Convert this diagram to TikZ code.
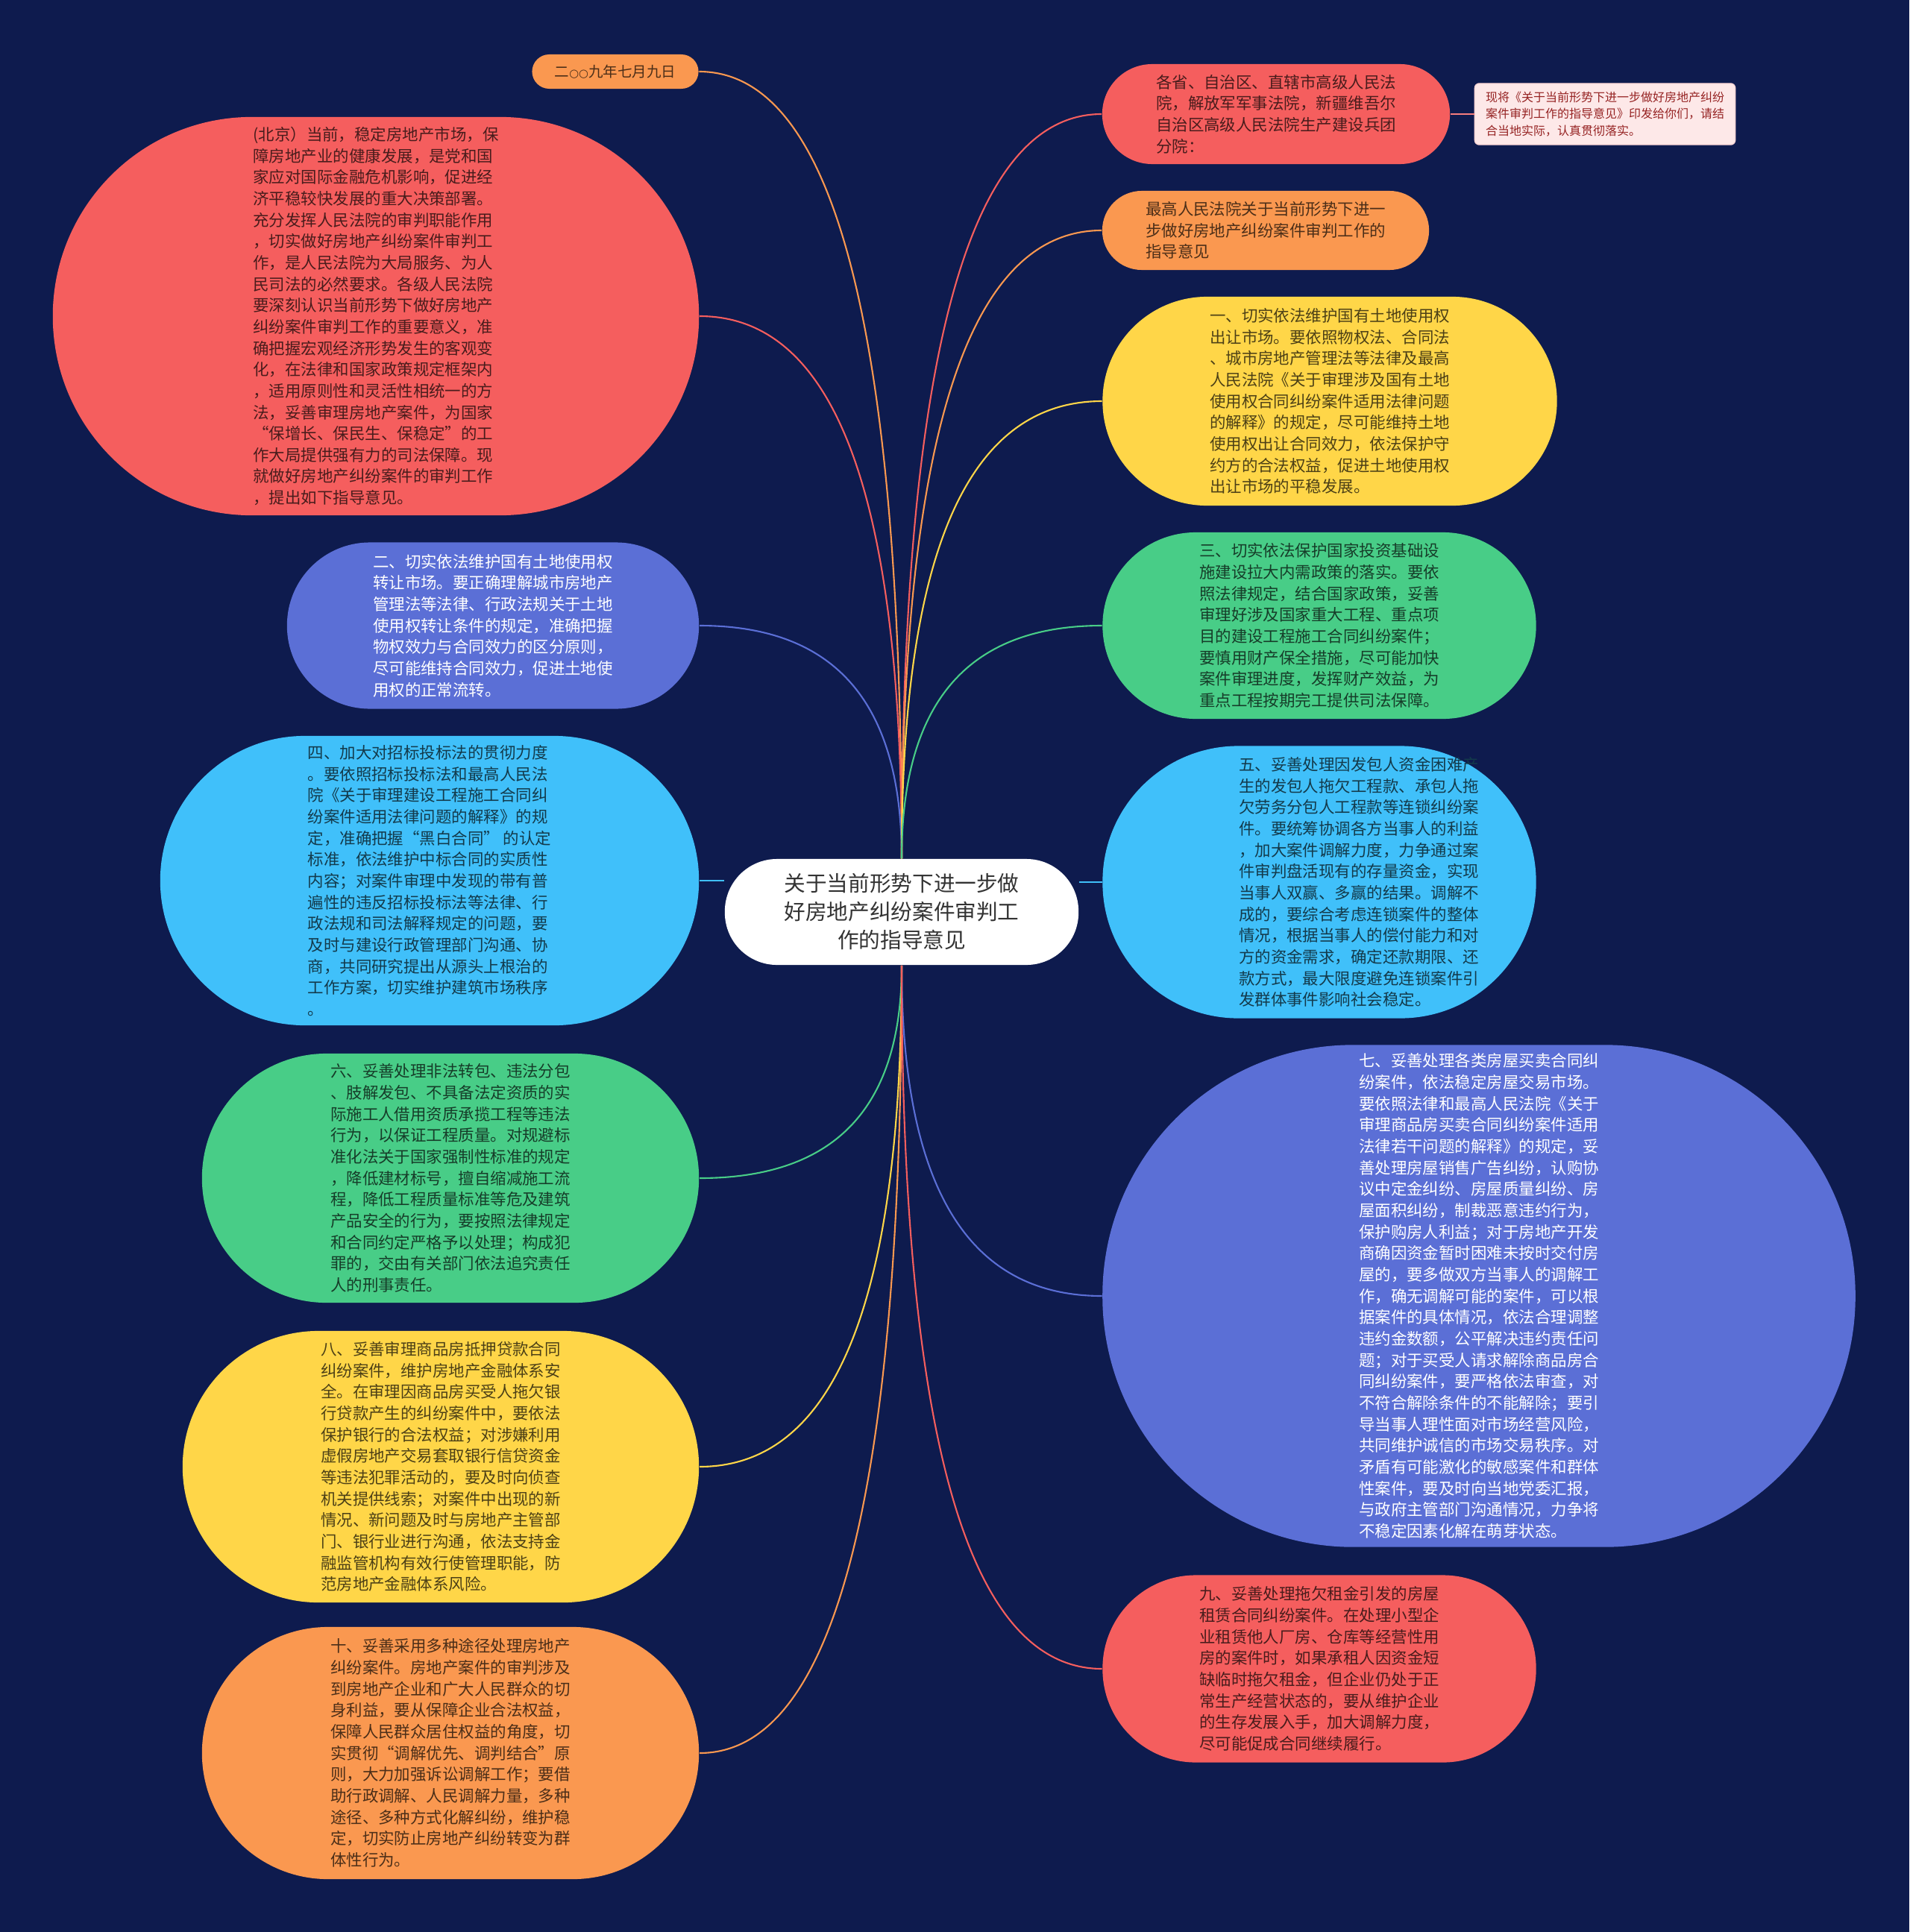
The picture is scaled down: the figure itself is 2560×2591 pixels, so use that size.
\documentclass[tikz,border=0pt]{standalone}
\usepackage{fontspec}
\newfontfamily\cjk{Noto Sans CJK SC}
\newfontfamily\symfont{DejaVu Sans}
\usepackage{tikz}
\usetikzlibrary{calc}
\definecolor{bgnavy}{RGB}{14,27,78}
\definecolor{cred}{RGB}{245,94,94}
\definecolor{corange}{RGB}{250,152,80}
\definecolor{cyellow}{RGB}{255,214,72}
\definecolor{cgreen}{RGB}{72,205,135}
\definecolor{clight}{RGB}{64,192,250}
\definecolor{cblue}{RGB}{91,111,214}
\definecolor{notefill}{RGB}{253,232,232}
\definecolor{notetext}{RGB}{150,35,35}
\newcommand{\smallring}{{\symfont\fontsize{4.2}{4.2}\selectfont ○}}
\tikzset{
  topic/.style={align=left, inner sep=0pt, font=\cjk\fontsize{6.1}{8.15}\selectfont},
  redtopic/.style={topic, fill=cred, text=cred!30!black},
  orangetopic/.style={topic, fill=corange, text=corange!30!black},
  yellowtopic/.style={topic, fill=cyellow, text=cyellow!30!black},
  greentopic/.style={topic, fill=cgreen, text=cgreen!30!black},
  lighttopic/.style={topic, fill=clight, text=clight!30!black},
  bluetopic/.style={topic, fill=cblue, text=white},
  rootnode/.style={fill=white, text=black!80, align=center, inner sep=0pt,
    font=\cjk\fontsize{8.15}{10.8}\selectfont},
  notebox/.style={fill=notefill, draw=cred!25, text=notetext, align=left, inner sep=0pt,
    rounded corners=0.06cm, font=\cjk\fontsize{4.55}{6.5}\selectfont},
  link/.style={line width=0.6pt}
}
\begin{document}
\begin{tikzpicture}[x=0.01cm, y=-0.01cm]
  \fill[bgnavy] (0,0) rectangle (2560,2591);
  \useasboundingbox (0,0) rectangle (2560,2591);

  \node[rootnode, minimum width=4.74cm, minimum height=1.42cm, rounded corners=0.7cm] (root) at (1209,1223)
    {关于当前形势下进一步做\\好房地产纠纷案件审判工\\作的指导意见};

  % left side
  \node[orangetopic, font=\cjk\fontsize{5.55}{7.5}\selectfont, minimum width=2.23cm, minimum height=0.46cm, rounded corners=0.23cm] (date) at (825,96)
    {二\smallring\smallring 九年七月九日};
  \node[redtopic, minimum width=8.66cm, minimum height=5.34cm, rounded corners=2.67cm] (intro) at (504,424)
    {(北京）当前，稳定房地产市场，保\\障房地产业的健康发展，是党和国\\家应对国际金融危机影响，促进经\\济平稳较快发展的重大决策部署。\\充分发挥人民法院的审判职能作用\\，切实做好房地产纠纷案件审判工\\作，是人民法院为大局服务、为人\\民司法的必然要求。各级人民法院\\要深刻认识当前形势下做好房地产\\纠纷案件审判工作的重要意义，准\\确把握宏观经济形势发生的客观变\\化，在法律和国家政策规定框架内\\，适用原则性和灵活性相统一的方\\法，妥善审理房地产案件，为国家\\“保增长、保民生、保稳定”的工\\作大局提供强有力的司法保障。现\\就做好房地产纠纷案件的审判工作\\，提出如下指导意见。};
  \node[bluetopic, minimum width=5.52cm, minimum height=2.23cm, rounded corners=1.11cm] (n2) at (661,839)
    {二、切实依法维护国有土地使用权\\转让市场。要正确理解城市房地产\\管理法等法律、行政法规关于土地\\使用权转让条件的规定，准确把握\\物权效力与合同效力的区分原则，\\尽可能维持合同效力，促进土地使\\用权的正常流转。};
  \node[lighttopic, minimum width=7.22cm, minimum height=3.88cm, rounded corners=1.94cm] (n4) at (576,1181)
    {四、加大对招标投标法的贯彻力度\\。要依照招标投标法和最高人民法\\院《关于审理建设工程施工合同纠\\纷案件适用法律问题的解释》的规\\定，准确把握“黑白合同” 的认定\\标准，依法维护中标合同的实质性\\内容；对案件审理中发现的带有普\\遍性的违反招标投标法等法律、行\\政法规和司法解释规定的问题，要\\及时与建设行政管理部门沟通、协\\商，共同研究提出从源头上根治的\\工作方案，切实维护建筑市场秩序\\。};
  \node[greentopic, minimum width=6.66cm, minimum height=3.34cm, rounded corners=1.67cm] (n6) at (604,1580)
    {六、妥善处理非法转包、违法分包\\、肢解发包、不具备法定资质的实\\际施工人借用资质承揽工程等违法\\行为，以保证工程质量。对规避标\\准化法关于国家强制性标准的规定\\，降低建材标号，擅自缩减施工流\\程，降低工程质量标准等危及建筑\\产品安全的行为，要按照法律规定\\和合同约定严格予以处理；构成犯\\罪的，交由有关部门依法追究责任\\人的刑事责任。};
  \node[yellowtopic, minimum width=6.92cm, minimum height=3.64cm, rounded corners=1.82cm] (n8) at (591,1967)
    {八、妥善审理商品房抵押贷款合同\\纠纷案件，维护房地产金融体系安\\全。在审理因商品房买受人拖欠银\\行贷款产生的纠纷案件中，要依法\\保护银行的合法权益；对涉嫌利用\\虚假房地产交易套取银行信贷资金\\等违法犯罪活动的，要及时向侦查\\机关提供线索；对案件中出现的新\\情况、新问题及时与房地产主管部\\门、银行业进行沟通，依法支持金\\融监管机构有效行使管理职能，防\\范房地产金融体系风险。};
  \node[orangetopic, minimum width=6.66cm, minimum height=3.38cm, rounded corners=1.69cm] (n10) at (604,2351)
    {十、妥善采用多种途径处理房地产\\纠纷案件。房地产案件的审判涉及\\到房地产企业和广大人民群众的切\\身利益，要从保障企业合法权益，\\保障人民群众居住权益的角度，切\\实贯彻“调解优先、调判结合”原\\则，大力加强诉讼调解工作；要借\\助行政调解、人民调解力量，多种\\途径、多种方式化解纠纷，维护稳\\定，切实防止房地产纠纷转变为群\\体性行为。};

  % right side
  \node[redtopic, minimum width=4.66cm, minimum height=1.34cm, rounded corners=0.67cm] (addr) at (1711,153)
    {各省、自治区、直辖市高级人民法\\院，解放军军事法院，新疆维吾尔\\自治区高级人民法院生产建设兵团\\分院：};
  \node[notebox, minimum width=3.49cm, minimum height=0.82cm] (note) at (2152,153)
    {现将《关于当前形势下进一步做好房地产纠纷\\案件审判工作的指导意见》印发给你们，请结\\合当地实际，认真贯彻落实。};
  \node[orangetopic, minimum width=4.38cm, minimum height=1.06cm, rounded corners=0.53cm] (title) at (1697,309)
    {最高人民法院关于当前形势下进一\\步做好房地产纠纷案件审判工作的\\指导意见};
  \node[yellowtopic, minimum width=6.09cm, minimum height=2.80cm, rounded corners=1.40cm] (n1) at (1783,538)
    {一、切实依法维护国有土地使用权\\出让市场。要依照物权法、合同法\\、城市房地产管理法等法律及最高\\人民法院《关于审理涉及国有土地\\使用权合同纠纷案件适用法律问题\\的解释》的规定，尽可能维持土地\\使用权出让合同效力，依法保护守\\约方的合法权益，促进土地使用权\\出让市场的平稳发展。};
  \node[greentopic, minimum width=5.81cm, minimum height=2.50cm, rounded corners=1.25cm] (n3) at (1769,839)
    {三、切实依法保护国家投资基础设\\施建设拉大内需政策的落实。要依\\照法律规定，结合国家政策，妥善\\审理好涉及国家重大工程、重点项\\目的建设工程施工合同纠纷案件；\\要慎用财产保全措施，尽可能加快\\案件审理进度，发挥财产效益，为\\重点工程按期完工提供司法保障。};
  \node[lighttopic, minimum width=5.81cm, minimum height=3.65cm, rounded corners=1.82cm] (n5) at (1769,1183) {};
  \node[topic, text=clight!30!black] (n5text) at (1822,1183)
    {五、妥善处理因发包人资金困难产\\生的发包人拖欠工程款、承包人拖\\欠劳务分包人工程款等连锁纠纷案\\件。要统筹协调各方当事人的利益\\，加大案件调解力度，力争通过案\\件审判盘活现有的存量资金，实现\\当事人双赢、多赢的结果。调解不\\成的，要综合考虑连锁案件的整体\\情况，根据当事人的偿付能力和对\\方的资金需求，确定还款期限、还\\款方式，最大限度避免连锁案件引\\发群体事件影响社会稳定。};
  \node[bluetopic, minimum width=10.09cm, minimum height=6.73cm, rounded corners=3.36cm] (n7) at (1983,1738)
    {七、妥善处理各类房屋买卖合同纠\\纷案件，依法稳定房屋交易市场。\\要依照法律和最高人民法院《关于\\审理商品房买卖合同纠纷案件适用\\法律若干问题的解释》的规定，妥\\善处理房屋销售广告纠纷，认购协\\议中定金纠纷、房屋质量纠纷、房\\屋面积纠纷，制裁恶意违约行为，\\保护购房人利益；对于房地产开发\\商确因资金暂时困难未按时交付房\\屋的，要多做双方当事人的调解工\\作，确无调解可能的案件，可以根\\据案件的具体情况，依法合理调整\\违约金数额，公平解决违约责任问\\题；对于买受人请求解除商品房合\\同纠纷案件，要严格依法审查，对\\不符合解除条件的不能解除；要引\\导当事人理性面对市场经营风险，\\共同维护诚信的市场交易秩序。对\\矛盾有可能激化的敏感案件和群体\\性案件，要及时向当地党委汇报，\\与政府主管部门沟通情况，力争将\\不稳定因素化解在萌芽状态。};
  \node[redtopic, minimum width=5.81cm, minimum height=2.51cm, rounded corners=1.25cm] (n9) at (1769,2238)
    {九、妥善处理拖欠租金引发的房屋\\租赁合同纠纷案件。在处理小型企\\业租赁他人厂房、仓库等经营性用\\房的案件时，如果承租人因资金短\\缺临时拖欠租金，但企业仍处于正\\常生产经营状态的，要从维护企业\\的生存发展入手，加大调解力度，\\尽可能促成合同继续履行。};

  % connectors
  \foreach \n/\c in {date/corange, intro/cred, n2/cblue}
    \draw[link, \c] (root.north) .. controls ($(root.north)!0.67!(root.north |- \n.east)$)
      and ($(\n.east)!0.67!(root.north |- \n.east)$) .. (\n.east);
  \foreach \n/\c in {n6/cgreen, n8/cyellow, n10/corange}
    \draw[link, \c] (root.south) .. controls ($(root.south)!0.67!(root.south |- \n.east)$)
      and ($(\n.east)!0.67!(root.south |- \n.east)$) .. (\n.east);
  \foreach \n/\c in {addr/cred, title/corange, n1/cyellow, n3/cgreen}
    \draw[link, \c] (root.north) .. controls ($(root.north)!0.67!(root.north |- \n.west)$)
      and ($(\n.west)!0.67!(root.north |- \n.west)$) .. (\n.west);
  \foreach \n/\c in {n7/cblue, n9/cred}
    \draw[link, \c] (root.south) .. controls ($(root.south)!0.67!(root.south |- \n.west)$)
      and ($(\n.west)!0.67!(root.south |- \n.west)$) .. (\n.west);
  \draw[link, clight] (n4.east) -- (n4.east -| root.west);
  \draw[link, clight] (n5.west) -- (n5.west -| root.east);
  \draw[link, cred!80!white] (addr.east) -- (note.west);
\end{tikzpicture}
\end{document}
